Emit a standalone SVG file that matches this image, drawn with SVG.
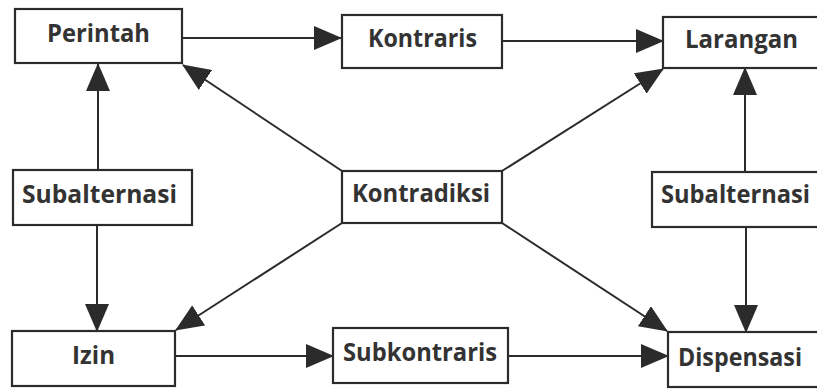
<svg xmlns="http://www.w3.org/2000/svg" width="817" height="389" viewBox="0 0 817 389">
<style>
.box{fill:#fff;stroke:#2b2b2b;stroke-width:2.2}
.lbl{font-family:"Open Sans","Noto Sans","Liberation Sans",sans-serif;font-weight:bold;font-size:25px;fill:#333}
.con{stroke:#2b2b2b;stroke-width:2;fill:none;marker-end:url(#ah)}
</style>
<defs>
<marker id="ah" viewBox="0 0 28 24" refX="27" refY="12" markerWidth="28" markerHeight="24" markerUnits="userSpaceOnUse" orient="auto">
<path d="M0,0 L28,12 L0,24 z" fill="#2b2b2b"/>
</marker>
</defs>
<rect width="817" height="389" fill="#fff"/>
<g id="connectors">
<path class="con" d="M182,38 L341,38"/>
<path class="con" d="M502,41 L663,41"/>
<path class="con" d="M98,170 L98,64"/>
<path class="con" d="M97,225 L97,331"/>
<path class="con" d="M342,171 L183,65"/>
<path class="con" d="M502,171 L663,69"/>
<path class="con" d="M342,223 L176,330"/>
<path class="con" d="M502,223 L667,331"/>
<path class="con" d="M745,172 L745,68"/>
<path class="con" d="M746,227 L746,332"/>
<path class="con" d="M175,356 L333,356"/>
<path class="con" d="M508,356 L668,356"/>
</g>
<g id="perintah"><rect class="box" x="15" y="9" width="167" height="54"/><text class="lbl" x="47" y="42" textLength="103" lengthAdjust="spacingAndGlyphs">Perintah</text></g>
<g id="kontraris"><rect class="box" x="342" y="15" width="160" height="53"/><text class="lbl" x="368" y="47" textLength="109" lengthAdjust="spacingAndGlyphs">Kontraris</text></g>
<g id="larangan"><rect class="box" x="663" y="17" width="160" height="51"/><text class="lbl" x="685" y="48" textLength="113" lengthAdjust="spacingAndGlyphs">Larangan</text></g>
<g id="subalternasi-kiri"><rect class="box" x="13" y="170" width="179" height="55"/><text class="lbl" x="22" y="203" textLength="155" lengthAdjust="spacingAndGlyphs">Subalternasi</text></g>
<g id="kontradiksi"><rect class="box" x="342" y="171" width="160" height="52"/><text class="lbl" x="352" y="202" textLength="138" lengthAdjust="spacingAndGlyphs">Kontradiksi</text></g>
<g id="subalternasi-kanan"><rect class="box" x="652" y="172" width="170" height="55"/><text class="lbl" x="661" y="203" textLength="149" lengthAdjust="spacingAndGlyphs">Subalternasi</text></g>
<g id="izin"><rect class="box" x="12" y="331" width="163" height="55"/><text class="lbl" x="72" y="364" textLength="43" lengthAdjust="spacingAndGlyphs">Izin</text></g>
<g id="subkontraris"><rect class="box" x="333" y="328" width="175" height="55"/><text class="lbl" x="343" y="361" textLength="154" lengthAdjust="spacingAndGlyphs">Subkontraris</text></g>
<g id="dispensasi"><rect class="box" x="668" y="332" width="155" height="55"/><text class="lbl" x="678" y="366" textLength="124" lengthAdjust="spacingAndGlyphs">Dispensasi</text></g>
</svg>
